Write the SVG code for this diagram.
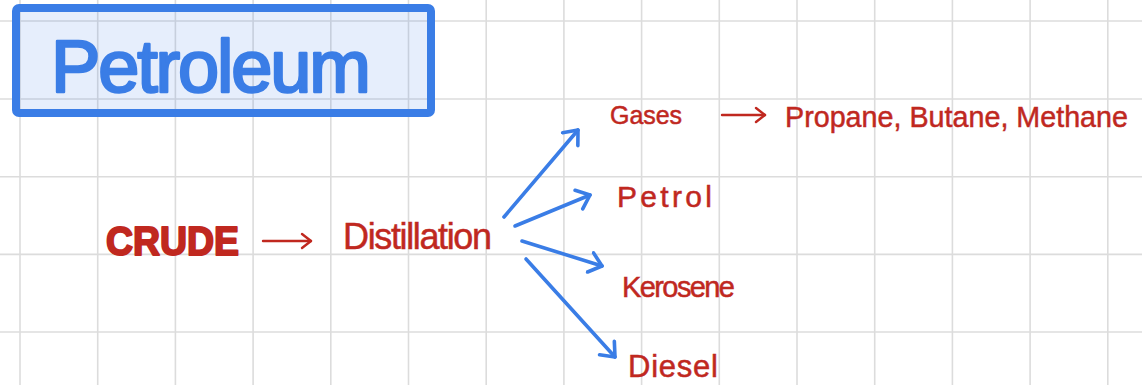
<svg xmlns="http://www.w3.org/2000/svg" width="1142" height="385" viewBox="0 0 1142 385">
  <defs>
    <style>
      .grid line { stroke: #dcdcdc; stroke-width: 1.6; }
      .red { fill: #c0281f; font-family: "Liberation Sans", Arial, sans-serif; stroke: #c0281f; stroke-width: 0.5; }
      .crude { fill: #c0281f; font-family: "Liberation Sans", Arial, sans-serif; font-weight: bold; stroke: #c0281f; stroke-width: 2; stroke-linejoin: round; }
      .title { fill: #3a7de6; font-family: "Liberation Sans", Arial, sans-serif; stroke: #3a7de6; stroke-width: 2.5; stroke-linejoin: round; }
      .blue-link { fill: none; stroke: #3a7de6; stroke-width: 3.6; stroke-linecap: round; }
      .red-link { fill: none; stroke: #c0281f; stroke-width: 2.4; stroke-linecap: round; }
    </style>
    <marker id="head-blue" viewBox="-14 -12 17 24" markerWidth="17" markerHeight="24" markerUnits="userSpaceOnUse" refX="0" refY="0" orient="auto">
      <path d="M-12,-10 L0,0 L-12,10" fill="none" stroke="#3a7de6" stroke-width="3.6" stroke-linecap="round" stroke-linejoin="round"/>
    </marker>
    <marker id="head-red" viewBox="-12 -10 14 20" markerWidth="14" markerHeight="20" markerUnits="userSpaceOnUse" refX="0" refY="0" orient="auto">
      <path d="M-9,-7 L0,0 L-9,7" fill="none" stroke="#c0281f" stroke-width="2.4" stroke-linecap="round" stroke-linejoin="round"/>
    </marker>
  </defs>

  <rect width="1142" height="385" fill="#ffffff"/>

  <!-- squared paper -->
  <g class="grid">
    <line x1="20" y1="0" x2="20" y2="385"/>
    <line x1="97.7" y1="0" x2="97.7" y2="385"/>
    <line x1="175.4" y1="0" x2="175.4" y2="385"/>
    <line x1="253.1" y1="0" x2="253.1" y2="385"/>
    <line x1="330.8" y1="0" x2="330.8" y2="385"/>
    <line x1="408.5" y1="0" x2="408.5" y2="385"/>
    <line x1="486.2" y1="0" x2="486.2" y2="385"/>
    <line x1="563.9" y1="0" x2="563.9" y2="385"/>
    <line x1="641.6" y1="0" x2="641.6" y2="385"/>
    <line x1="719.3" y1="0" x2="719.3" y2="385"/>
    <line x1="797" y1="0" x2="797" y2="385"/>
    <line x1="874.7" y1="0" x2="874.7" y2="385"/>
    <line x1="952.4" y1="0" x2="952.4" y2="385"/>
    <line x1="1030.1" y1="0" x2="1030.1" y2="385"/>
    <line x1="1107.8" y1="0" x2="1107.8" y2="385"/>
    <line x1="0" y1="21" x2="1142" y2="21"/>
    <line x1="0" y1="99" x2="1142" y2="99"/>
    <line x1="0" y1="176.7" x2="1142" y2="176.7"/>
    <line x1="0" y1="254.4" x2="1142" y2="254.4"/>
    <line x1="0" y1="332" x2="1142" y2="332"/>
  </g>

  <!-- heading box -->
  <g id="title">
    <rect x="16" y="8" width="415" height="105" rx="3" fill="#3a7de6" fill-opacity="0.13" stroke="#3a7de6" stroke-width="8"/>
    <text class="title" x="51" y="92" font-size="74" textLength="320" lengthAdjust="spacing">Petroleum</text>
  </g>

  <g id="crude">
    <text class="crude" x="106" y="255" font-size="40" textLength="133" lengthAdjust="spacingAndGlyphs">CRUDE</text>
  </g>

  <g id="distillation">
    <text class="red" x="343" y="249" font-size="36" textLength="149" lengthAdjust="spacing">Distillation</text>
  </g>

  <g id="gases">
    <text class="red" x="610" y="124" font-size="25" textLength="72" lengthAdjust="spacing">Gases</text>
  </g>

  <g id="gas-types">
    <text class="red" x="785" y="127" font-size="30" textLength="343" lengthAdjust="spacingAndGlyphs">Propane, Butane, Methane</text>
  </g>

  <g id="petrol">
    <text class="red" x="617" y="207" font-size="30" textLength="95" lengthAdjust="spacing">Petrol</text>
  </g>

  <g id="kerosene">
    <text class="red" x="622" y="297" font-size="29" textLength="113" lengthAdjust="spacing">Kerosene</text>
  </g>

  <g id="diesel">
    <text class="red" x="628" y="377" font-size="31" textLength="90" lengthAdjust="spacing">Diesel</text>
  </g>

  <!-- connectors -->
  <g id="connectors">
    <line class="red-link" x1="263" y1="241" x2="311" y2="241" marker-end="url(#head-red)"/>
    <line class="red-link" x1="722" y1="115" x2="765" y2="115" marker-end="url(#head-red)"/>
    <line class="blue-link" x1="504" y1="217" x2="578" y2="130" marker-end="url(#head-blue)"/>
    <line class="blue-link" x1="515" y1="226" x2="590" y2="195" marker-end="url(#head-blue)"/>
    <line class="blue-link" x1="522" y1="241" x2="602" y2="266" marker-end="url(#head-blue)"/>
    <line class="blue-link" x1="526" y1="259" x2="615" y2="357" marker-end="url(#head-blue)"/>
  </g>
</svg>
